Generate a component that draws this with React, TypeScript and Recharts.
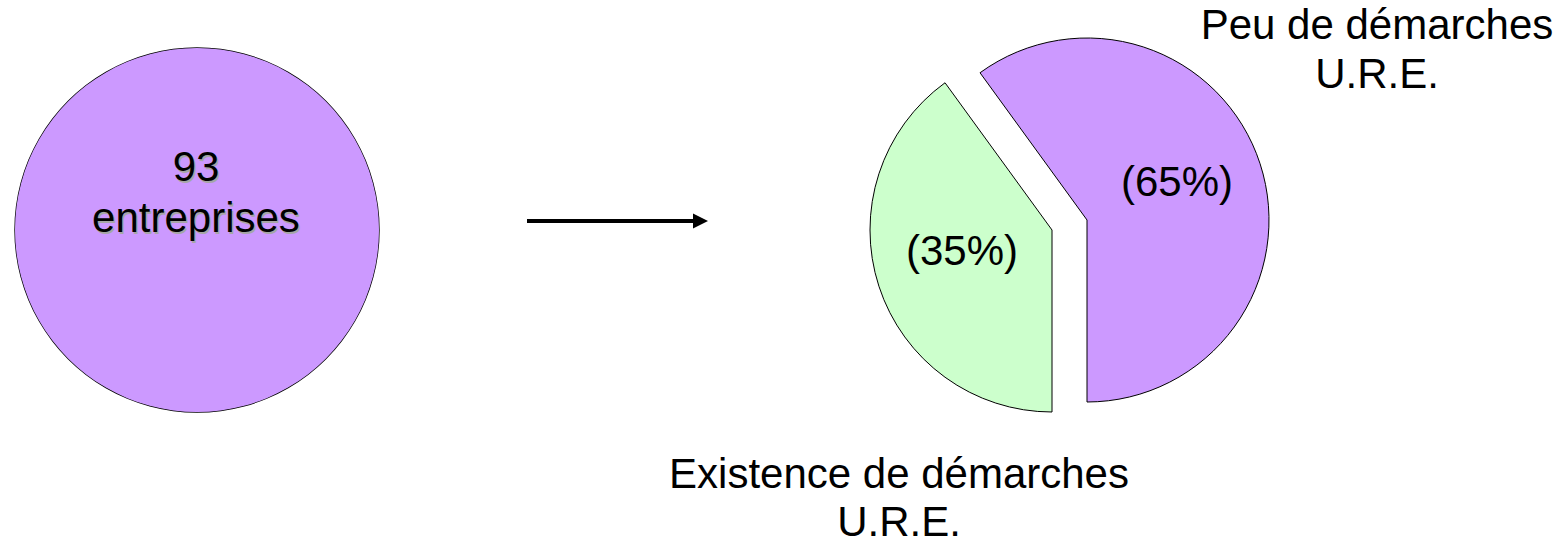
import { Cell, Pie, PieChart } from "recharts";

const totalLines = ["93", "entreprises"];
const totalData = [{ name: "entreprises", value: 93 }];

const categories = ["Existence de démarches U.R.E.", "Peu de démarches U.R.E."];
// slice sizes as drawn in the picture (the printed labels say 35 / 65)
const shares = [40, 60];
const shareLabels = ["(35%)", "(65%)"];
const nameLines = [
  ["Existence de démarches", "U.R.E."],
  ["Peu de démarches", "U.R.E."],
];

const colors = ["#ccffcc", "#cc99ff"];
const font = '"Liberation Sans", Arial, sans-serif';

const splitData = categories.map((name, i) => ({ name, value: shares[i] }));

function shareLabel(showIndex: number) {
  return (props: any) => {
    if (props.index !== showIndex) {
      return null;
    }
    const r = props.outerRadius * 0.52;
    const rad = (-props.midAngle * Math.PI) / 180;
    const x = props.cx + r * Math.cos(rad);
    const y = props.cy + r * Math.sin(rad) - 9;
    return (
      <text
        x={x}
        y={y}
        textAnchor="middle"
        dominantBaseline="central"
        fontSize={42}
        fontFamily={font}
        fill="#000"
      >
        {shareLabels[showIndex]}
      </text>
    );
  };
}

function totalLabel(props: any) {
  const { cx, cy } = props;
  return (
    <g fontFamily={font} fontSize={42} textAnchor="middle">
      {totalLines.map((t, i) => (
        <text key={"s" + t} x={cx + 0.5} y={cy - 47.5 + i * 51} fill="#a6a6a6">
          {t}
        </text>
      ))}
      {totalLines.map((t, i) => (
        <text key={t} x={cx - 1} y={cy - 49 + i * 51} fill="#000">
          {t}
        </text>
      ))}
    </g>
  );
}

function SplitPie({ show, cx, cy }: { show: number; cx: number; cy: number }) {
  return (
    <Pie
      data={splitData}
      dataKey="value"
      cx={cx}
      cy={cy}
      outerRadius={182}
      startAngle={126}
      endAngle={486}
      label={shareLabel(show)}
      labelLine={false}
      isAnimationActive={false}
    >
      {splitData.map((entry, i) => (
        <Cell
          key={entry.name}
          fill={i === show ? colors[i] : "none"}
          stroke={i === show ? "#000" : "none"}
          strokeWidth={1}
        />
      ))}
    </Pie>
  );
}

export default function App() {
  return (
    <div style={{ position: "absolute", left: 0, top: 0, width: 1564, height: 538, background: "#fff" }}>
      <PieChart width={1564} height={538} margin={{ top: 0, right: 0, bottom: 0, left: 0 }}>
        <Pie
          data={totalData}
          dataKey="value"
          cx={197}
          cy={230}
          innerRadius={181.3}
          outerRadius={182.7}
          startAngle={90}
          endAngle={450}
          stroke="none"
          fill="#000"
          isAnimationActive={false}
        />
        <Pie
          data={totalData}
          dataKey="value"
          cx={197}
          cy={230}
          outerRadius={182}
          startAngle={90}
          endAngle={450}
          stroke="none"
          fill={colors[1]}
          label={totalLabel}
          labelLine={false}
          isAnimationActive={false}
        />
        {SplitPie({ show: 0, cx: 1052, cy: 230 })}
        {SplitPie({ show: 1, cx: 1087, cy: 220 })}

        <g fontFamily={font} fontSize={42} textAnchor="middle">
          {nameLines[0].map((t, i) => (
            <text key={"g" + i} x={899} y={488 + i * 48} fill="#000">
              {t}
            </text>
          ))}
          {nameLines[1].map((t, i) => (
            <text key={"p" + i} x={1377} y={39 + i * 49} fill="#000">
              {t}
            </text>
          ))}
        </g>

        <g>
          <line x1={527} y1={221} x2={696} y2={221} stroke="#000" strokeWidth={4} />
          <polygon points="693,213.5 708,221 693,228.5" fill="#000" />
        </g>
      </PieChart>
    </div>
  );
}
